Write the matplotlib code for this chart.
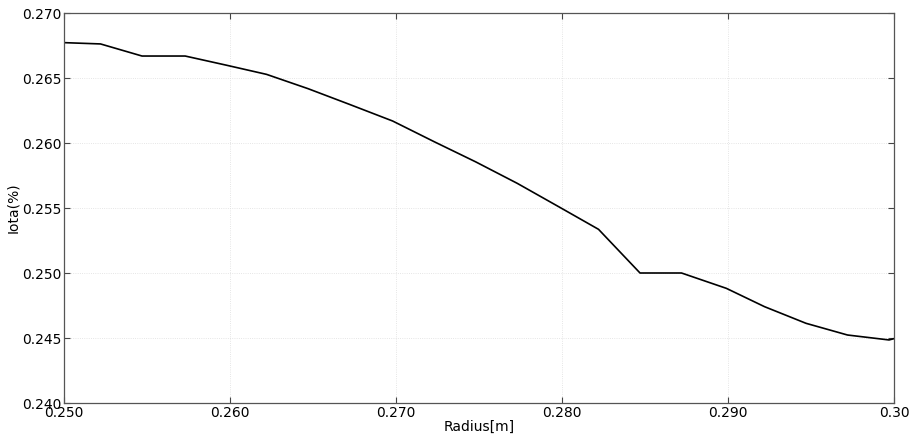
import matplotlib
matplotlib.use("Agg")
import matplotlib.pyplot as plt

radius = [0.2500, 0.2522, 0.2547, 0.2573, 0.2598, 0.2622, 0.2647, 0.2672, 0.2698,
          0.2723, 0.2748, 0.2773, 0.2798, 0.2822, 0.2847, 0.2872, 0.2899, 0.2922,
          0.2947, 0.2972, 0.2997, 0.3000]
iota = [0.26772, 0.26762, 0.26669, 0.26669, 0.26598, 0.26528, 0.26418, 0.26297,
        0.26169, 0.26010, 0.25855, 0.25690, 0.25510, 0.25336, 0.25000, 0.25000,
        0.24882, 0.24741, 0.24613, 0.24523, 0.24485, 0.24495]

xticks = [0.25, 0.26, 0.27, 0.28, 0.29, 0.30]
xticklabels = ["0.250", "0.260", "0.270", "0.280", "0.290", "0.30"]
yticks = [0.240, 0.245, 0.250, 0.255, 0.260, 0.265, 0.270]
yticklabels = ["0.240", "0.245", "0.250", "0.255", "0.260", "0.265", "0.270"]

fig = plt.figure(figsize=(9.1, 4.34), dpi=100)
ax = fig.add_axes([64/910, 31/434, 830/910, 390/434])
ax.plot(radius, iota, color="black", lw=1.2)
ax.set_xlim(0.25, 0.30)
ax.set_ylim(0.240, 0.270)
ax.set_xticks(xticks)
ax.set_xticklabels(xticklabels)
ax.set_yticks(yticks)
ax.set_yticklabels(yticklabels)
ax.grid(True, linestyle=":", color="#dddddd", lw=0.6)
ax.tick_params(direction="in", top=True, right=True, length=4, width=0.8,
               labelsize=10, pad=2, color="#444444")
for s in ax.spines.values():
    s.set_color("#555555")
    s.set_linewidth(0.9)
ax.set_xlabel("Radius[m]", fontsize=10, labelpad=0)
ax.set_ylabel("Iota(%)", fontsize=10, labelpad=1)
fig.savefig("out.png", dpi=100)
